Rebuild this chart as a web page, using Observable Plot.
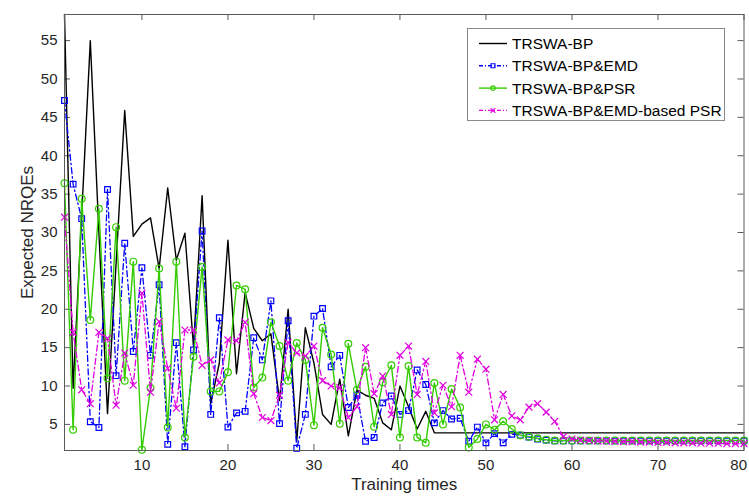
<!DOCTYPE html>
<html><head><meta charset="utf-8">
<script src="https://cdn.jsdelivr.net/npm/d3@7"></script>
<script src="https://cdn.jsdelivr.net/npm/@observablehq/plot@0.6"></script>
<style>
body{margin:0;background:#fff;}
#wrap{position:relative;width:749px;height:500px;font-family:"Liberation Sans",Arial,sans-serif;}
#legend{position:absolute;left:467px;top:28px;width:258px;height:93px;border:1px solid #8a8a8a;background:#fff;box-sizing:border-box;}
</style></head><body><div id="wrap"></div>
<script>
const seriesNames = ["TRSWA-BP", "TRSWA-BP&EMD", "TRSWA-BP&PSR", "TRSWA-BP&EMD-based PSR"];
const seriesColors = ["#000000", "#0000ff", "#33cc00", "#e000e0"];
const xTicks = [10, 20, 30, 40, 50, 60, 70, 80];
const yTicks = [5, 10, 15, 20, 25, 30, 35, 40, 45, 50, 55];

const bp = [58.4, 9.7, 32.3, 55.0, 30.0, 6.4, 26.0, 45.9, 29.5, 31.1,
  31.9, 25.3, 35.8, 26.4, 29.9, 15.1, 34.8, 7.7, 13.0, 29.0,
  11.6, 22.2, 17.5, 15.9, 16.8, 8.1, 20.0, 2.8, 17.6, 13.0,
  6.3, 5.0, 10.9, 3.5, 9.5, 8.8, 8.4, 5.2, 4.3, 10.0,
  7.3, 4.4, 6.7, 3.9, 3.9, 3.9, 3.9, 3.9, 3.9, 3.9,
  3.9, 3.9, 3.9, 3.9, 3.9, 3.9, 3.9, 3.9, 3.9, 3.9,
  3.9, 3.9, 3.9, 3.9, 3.9, 3.9, 3.9, 3.9, 3.9, 3.9,
  3.9, 3.9, 3.9, 3.9, 3.9, 3.9, 3.9, 3.9, 3.9, 3.9];

const bpEmd = [47.2, 36.3, 31.8, 5.35, 4.6, 35.6, 11.35, 28.6, 14.5, 25.4,
  14.0, 23.2, 2.4, 15.65, 2.1, 14.7, 30.2, 6.3, 18.9, 4.65,
  6.5, 6.7, 16.3, 13.4, 21.1, 5.1, 18.5, 1.9, 6.3, 19.1,
  20.1, 12.5, 14.0, 7.2, 8.8, 2.8, 3.3, 7.8, 8.7, 6.3,
  6.8, 12.1, 10.2, 5.2, 6.8, 5.7, 5.8, 2.8, 4.65, 2.6,
  3.8, 2.6, 3.7, 3.6, 3.35, 3.1, 2.95, 2.85, 2.85, 2.85,
  2.85, 2.85, 2.85, 2.85, 2.85, 2.85, 2.85, 2.85, 2.85, 2.85,
  2.85, 2.85, 2.85, 2.85, 2.85, 2.85, 2.85, 2.85, 2.85, 2.85];

const bpPsr = [36.4, 4.3, 34.4, 18.6, 33.1, 11.0, 30.7, 10.7, 26.2, 1.7,
  9.75, 25.3, 4.6, 26.2, 3.3, 13.8, 25.5, 9.3, 9.3, 11.8,
  23.1, 22.6, 9.8, 11.1, 18.3, 15.2, 10.7, 15.6, 13.4, 4.9,
  17.6, 14.1, 5.1, 15.5, 9.5, 12.5, 4.7, 10.5, 12.7, 3.3,
  12.6, 3.3, 2.6, 10.4, 5.0, 9.6, 7.2, 2.0, 3.1, 5.0,
  4.3, 5.4, 4.4, 3.6, 3.4, 3.2, 3.0, 2.9, 2.9, 2.9,
  2.9, 2.9, 2.9, 2.9, 2.9, 2.9, 2.9, 2.9, 2.9, 2.9,
  2.9, 2.9, 2.9, 2.9, 2.9, 2.9, 2.9, 2.9, 2.9, 2.9];

const bpEmdPsr = [32.0, 17.0, 9.5, 7.7, 17.0, 16.2, 7.5, 14.3, 10.1, 22.1,
  9.2, 18.4, 12.3, 7.1, 17.3, 17.3, 12.7, 13.4, 10.4, 16.0,
  15.9, 18.3, 9.0, 5.9, 5.5, 8.8, 15.7, 14.3, 13.9, 15.2,
  10.7, 10.0, 9.8, 5.9, 7.3, 15.0, 9.0, 11.3, 6.3, 14.0,
  15.2, 8.9, 13.2, 6.5, 10.1, 7.3, 14.0, 9.2, 13.5, 12.2,
  5.6, 8.9, 6.1, 5.6, 7.25, 7.7, 6.6, 5.4, 3.4, 3.1,
  2.95, 2.9, 2.85, 2.85, 2.8, 2.75, 2.75, 2.7, 2.7, 2.65,
  2.65, 2.6, 2.6, 2.6, 2.55, 2.55, 2.55, 2.5, 2.5, 2.5];

const toRows = arr => arr.map((v, i) => ({t: i + 1, v}));
const S = [bp, bpEmd, bpPsr, bpEmdPsr].map(toRows);

const W = 749, H = 500, mL = 64, mR = 5.5, mT = 14, mB = 50;
const fw = W - mL - mR, fh = H - mT - mB;
const axisColor = "#5a5a5a";
const dash = "6,3,1.5,3";
const lastX = xTicks[xTicks.length - 1];

const plot = Plot.plot({
  width: W, height: H,
  marginLeft: mL, marginRight: mR, marginTop: mT, marginBottom: mB,
  x: {domain: [1, 80]},
  y: {domain: [1.6, 58.4]},
  style: {fontFamily: '"Liberation Sans", Arial, sans-serif', fontSize: "15px", color: "#262626", background: "white", overflow: "visible"},
  marks: [
    Plot.axisX(xTicks.slice(0, -1), {tickSize: 0, tickPadding: 9, label: null, fill: "#262626"}),
    Plot.axisX([lastX], {tickSize: 0, tickPadding: 9, label: null, fill: "#262626", textAnchor: "end", dx: 3}),
    Plot.axisY({ticks: yTicks, tickSize: 0, tickPadding: 7, label: null, fill: "#262626"}),
    Plot.tickX(xTicks, {x: d => d, insetTop: fh - 6, stroke: axisColor}),
    Plot.tickX(xTicks, {x: d => d, insetBottom: fh - 6, stroke: axisColor}),
    Plot.tickY(yTicks, {y: d => d, insetRight: fw - 6, stroke: axisColor}),
    Plot.tickY(yTicks, {y: d => d, insetLeft: fw - 6, stroke: axisColor}),
    Plot.line(S[0], {x: "t", y: "v", stroke: seriesColors[0], strokeWidth: 1.4}),
    Plot.line(S[1], {x: "t", y: "v", stroke: seriesColors[1], strokeWidth: 1.3, strokeDasharray: dash}),
    Plot.dot(S[1], {x: "t", y: "v", stroke: seriesColors[1], symbol: "square", r: 3.2, strokeWidth: 1.2, fill: "none"}),
    Plot.line(S[2], {x: "t", y: "v", stroke: seriesColors[2], strokeWidth: 1.4}),
    Plot.dot(S[2], {x: "t", y: "v", stroke: seriesColors[2], symbol: "circle", r: 3.4, strokeWidth: 1.2, fill: "none"}),
    Plot.line(S[3], {x: "t", y: "v", stroke: seriesColors[3], strokeWidth: 1.3, strokeDasharray: dash}),
    Plot.dot(S[3], {x: "t", y: "v", stroke: seriesColors[3], symbol: "times", r: 3.2, strokeWidth: 1.2}),
    Plot.frame({stroke: axisColor}),
    Plot.text(["Expected NRQEs"], {frameAnchor: "left", textAnchor: "middle", rotate: -90, dx: -37, fontSize: 17, fill: "#262626"}),
    Plot.text(["Training times"], {frameAnchor: "bottom", textAnchor: "middle", dy: 39, fontSize: 17, fill: "#262626"})
  ]
});

const wrap = document.getElementById("wrap");
wrap.appendChild(plot);

// legend
const lg = document.createElement("div");
lg.id = "legend";
const ns = "http://www.w3.org/2000/svg";
const ls = document.createElementNS(ns, "svg");
ls.setAttribute("width", 256); ls.setAttribute("height", 91);
ls.style.position = "absolute"; ls.style.left = "0"; ls.style.top = "0";
const symbols = [null, "square", "circle", "times"];
seriesNames.forEach((name, k) => {
  const cy = 14.5 + k * 22.3;
  const ln = document.createElementNS(ns, "line");
  ln.setAttribute("x1", 11); ln.setAttribute("x2", 39);
  ln.setAttribute("y1", cy); ln.setAttribute("y2", cy);
  ln.setAttribute("stroke", seriesColors[k]);
  ln.setAttribute("stroke-width", 1.4);
  if (k === 1 || k === 3) ln.setAttribute("stroke-dasharray", "4,2,1,2");
  ls.appendChild(ln);
  if (symbols[k]) {
    const p = document.createElementNS(ns, "path");
    const sym = {square: d3.symbolSquare, circle: d3.symbolCircle, times: d3.symbolTimes}[symbols[k]];
    p.setAttribute("d", d3.symbol(sym, 16)());
    p.setAttribute("transform", `translate(25,${cy})`);
    p.setAttribute("fill", "none");
    p.setAttribute("stroke", seriesColors[k]);
    p.setAttribute("stroke-width", 1.1);
    ls.appendChild(p);
  }
  const tx = document.createElementNS(ns, "text");
  tx.setAttribute("x", 44); tx.setAttribute("y", cy);
  tx.setAttribute("dy", "0.35em");
  tx.setAttribute("font-size", "15.5px");
  tx.setAttribute("font-family", '"Liberation Sans", Arial, sans-serif');
  tx.setAttribute("fill", "#000");
  tx.textContent = name;
  ls.appendChild(tx);
});
lg.appendChild(ls);
wrap.appendChild(lg);
</script>
</body></html>
